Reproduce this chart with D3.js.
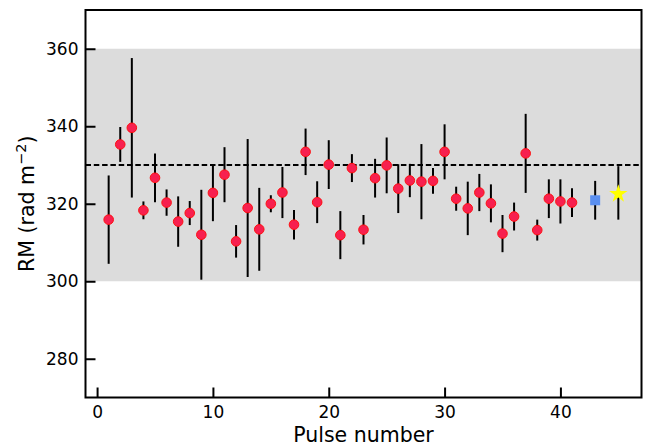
<!DOCTYPE html>
<html>
<head>
<meta charset="utf-8">
<script src="https://cdn.jsdelivr.net/npm/d3@7"></script>
<style>
  body { margin: 0; background: #fff; }
  svg { display: block; font-family: "DejaVu Sans", sans-serif; }
</style>
</head>
<body>
<script>
// pulses 1..41, RM and error
var pulse = d3.range(1, 42);
var rm = [315.9, 335.3, 339.6, 318.3, 326.7, 320.3, 315.4, 317.6, 312.0, 322.8,
          327.5, 310.3, 318.9, 313.4, 320.0, 322.9, 314.6, 333.4, 320.4, 330.1,
          311.9, 329.2, 313.3, 326.6, 329.9, 323.9, 326.0, 325.7, 325.9, 333.4,
          321.3, 318.8, 322.9, 320.1, 312.3, 316.7, 333.0, 313.2, 321.3, 320.6,
          320.3];
var rmErr = [11.4, 4.5, 18.0, 2.3, 6.3, 3.4, 6.5, 3.1, 11.6, 7.3,
             7.1, 4.2, 17.8, 10.7, 2.2, 6.6, 3.8, 6.0, 5.4, 6.3,
             6.2, 3.6, 3.8, 5.0, 7.2, 6.3, 4.3, 9.7, 3.3, 7.1,
             3.1, 6.9, 4.8, 4.9, 4.8, 3.6, 10.2, 2.7, 5.0, 5.7,
             3.7];

// combined points
var squarePt = {x: 43, rm: 320.9, err: 5.0};
var starPt = {x: 45, rm: 322.8, err: 6.9};

var meanRM = 330;
var band = [300, 360];

var xTicks = [0, 10, 20, 30, 40];
var yTicks = [280, 300, 320, 340, 360];

var width = 656, height = 445;
var margin = {top: 10, right: 14.5, bottom: 47.5, left: 85.5};

var svg = d3.select("body").append("svg")
  .attr("width", width)
  .attr("height", height);

var x = d3.scaleLinear().domain([-1, 47]).range([margin.left, width - margin.right]);
var y = d3.scaleLinear().domain([270, 370]).range([height - margin.bottom, margin.top]);

// grey band
svg.append("rect")
  .attr("x", x(-1))
  .attr("width", x(47) - x(-1))
  .attr("y", y(band[1]))
  .attr("height", y(band[0]) - y(band[1]))
  .attr("fill", "#dcdcdc");

// mean line
svg.append("line")
  .attr("x1", x(-1)).attr("x2", x(47))
  .attr("y1", y(meanRM)).attr("y2", y(meanRM))
  .attr("stroke", "#000")
  .attr("stroke-width", 2)
  .attr("stroke-dasharray", "5.5,2.8");

var pts = pulse.map(function(p, i) { return {x: p, rm: rm[i], err: rmErr[i]}; });
var allPts = pts.concat([squarePt, starPt]);

// error bars
svg.append("g").selectAll("line")
  .data(allPts)
  .enter().append("line")
  .attr("x1", function(d) { return x(d.x); })
  .attr("x2", function(d) { return x(d.x); })
  .attr("y1", function(d) { return y(d.rm - d.err); })
  .attr("y2", function(d) { return y(d.rm + d.err); })
  .attr("stroke", "#000")
  .attr("stroke-width", 2);

svg.append("g").selectAll("circle")
  .data(pts)
  .enter().append("circle")
  .attr("cx", function(d) { return x(d.x); })
  .attr("cy", function(d) { return y(d.rm); })
  .attr("r", 4.8)
  .attr("fill", "#f7204f")
  .attr("stroke", "#ff1010")
  .attr("stroke-width", 1);

svg.append("rect")
  .attr("x", x(squarePt.x) - 5)
  .attr("y", y(squarePt.rm) - 5)
  .attr("width", 10)
  .attr("height", 10)
  .attr("fill", "#5a8ff0");

svg.append("path")
  .attr("d", d3.symbol().type(d3.symbolStar).size(105)())
  .attr("transform", "translate(" + x(starPt.x) + "," + (y(starPt.rm) + 1) + ")")
  .attr("fill", "#ffff00");

// axes
var xAxis = svg.append("g")
  .attr("transform", "translate(0," + y(270) + ")")
  .call(d3.axisBottom(x).tickValues(xTicks).tickSize(-10).tickPadding(8));
var yAxis = svg.append("g")
  .attr("transform", "translate(" + x(-1) + ",0)")
  .call(d3.axisLeft(y).tickValues(yTicks).tickSize(-10).tickPadding(7));

[xAxis, yAxis].forEach(function(a) {
  a.select(".domain").remove();
  a.selectAll(".tick line").attr("stroke", "#000").attr("stroke-width", 2);
  a.selectAll(".tick text")
    .attr("fill", "#000")
    .style("font-family", "DejaVu Sans")
    .style("font-size", "17px");
});

// frame
svg.append("rect")
  .attr("x", x(-1)).attr("y", y(370))
  .attr("width", x(47) - x(-1))
  .attr("height", y(270) - y(370))
  .attr("fill", "none")
  .attr("stroke", "#000")
  .attr("stroke-width", 2);

svg.append("text")
  .attr("x", (x(-1) + x(47)) / 2)
  .attr("y", 441.5)
  .attr("text-anchor", "middle")
  .style("font-size", "20.5px")
  .text("Pulse number");

var yl = svg.append("text")
  .attr("transform", "translate(34," + ((y(270) + y(370)) / 2) + ") rotate(-90)")
  .attr("text-anchor", "middle")
  .style("font-size", "20.5px");
yl.append("tspan").text("RM (rad m");
yl.append("tspan").attr("dy", -8).style("font-size", "14.5px").text("\u22122");
yl.append("tspan").attr("dy", 8).text(")");
</script>
</body>
</html>
